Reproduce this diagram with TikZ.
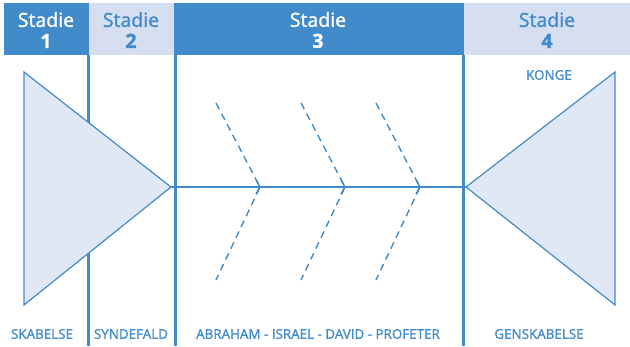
\documentclass[tikz,border=0pt]{standalone}
\usepackage{fontspec}
\setmainfont{Open Sans}
\newfontfamily\semib[FakeBold=1.3]{Open Sans}
\definecolor{dblue}{RGB}{66,139,202}
\definecolor{lblue}{RGB}{213,223,240}
\definecolor{tfill}{RGB}{224,232,245}
\begin{document}
\begin{tikzpicture}[x=1pt,y=-1pt,
  hdr/.style={anchor=center,align=center,font=\semib\fontsize{19.5}{21}\selectfont,inner sep=0pt},
  lbl/.style={text=dblue,font=\semib\fontsize{13.4}{14}\selectfont,inner sep=0pt},
  sep/.style={draw=dblue,line width=3pt},
  tri/.style={draw=dblue,fill=tfill,line width=1.2pt,line join=miter},
  bone/.style={draw=dblue,line width=1.4pt,dash pattern=on 7pt off 5pt},
  tipc/.style={draw=dblue,line width=1.4pt}]
\useasboundingbox (0,0) rectangle (630,346);
% header
\fill[dblue] (4,3) rectangle (89,55);
\fill[lblue] (89,3) rectangle (174,55);
\fill[dblue] (174,3) rectangle (464,55);
\fill[lblue] (464,3) rectangle (630,55);
\node[hdr,text=white] (h1) at (46,30) {Stadie\\\textbf{1}};
\node[hdr,text=dblue] (h2) at (131,30) {Stadie\\\textbf{2}};
\node[hdr,text=white] (h3) at (318,30) {Stadie\\\textbf{3}};
\node[hdr,text=dblue] (h4) at (547,30) {Stadie\\\textbf{4}};
% separators
\draw[sep] (88,55) -- (88,346);
\draw[sep] (175.5,55) -- (175.5,346);
\draw[sep] (463,55) -- (463,346);
% triangles
\coordinate (lt) at (171,187);
\coordinate (rt) at (466,187);
\draw[tri] (24,72) -- (lt) -- (24,305) -- cycle;
\draw[tri] (615,72) -- (rt) -- (615,305) -- cycle;
% spine
\draw[draw=dblue,line width=1.5pt] (lt) -- (rt);
% bones
\foreach \x in {216,301,376}{
  \draw[bone] (\x,103) -- (\x+44,187) -- (\x,280);
  \draw[tipc] (\x+40,180) -- (\x+44,187) -- (\x+40,194);
}
% labels
\node[lbl] (l1) at (42,334) {SKABELSE};
\node[lbl] (l2) at (131,334) {SYNDEFALD};
\node[lbl] (l3) at (318,334) {ABRAHAM - ISRAEL - DAVID - PROFETER};
\node[lbl] (l4) at (539,334) {GENSKABELSE};
\node[lbl] (k) at (549,75) {KONGE};
\end{tikzpicture}
\end{document}
